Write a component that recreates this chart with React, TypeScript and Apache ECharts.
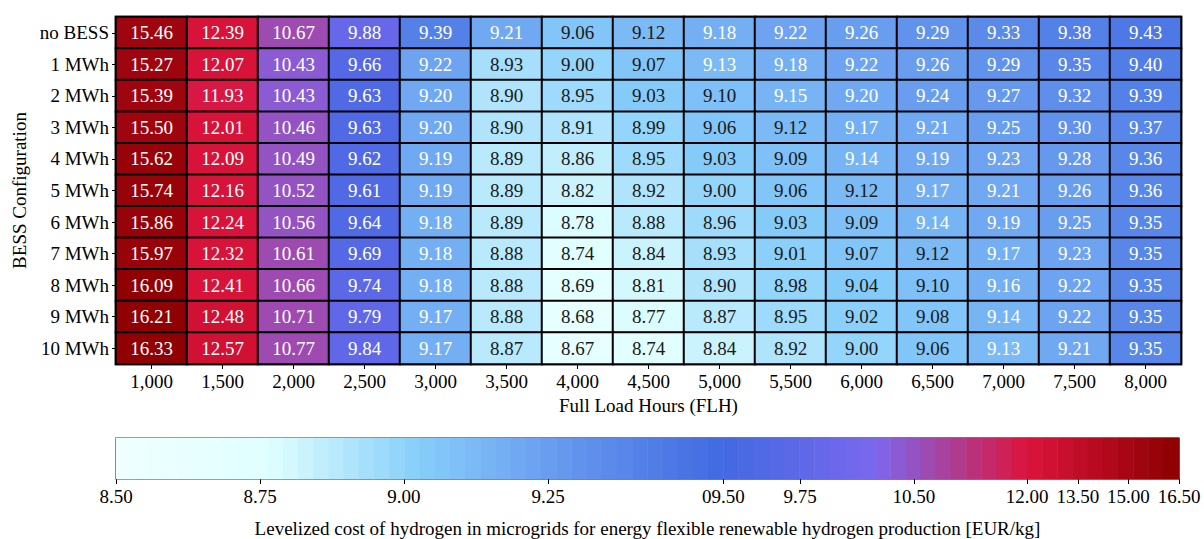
import React, { useEffect, useRef } from "react";
import * as echarts from "echarts";

const rowLabels = ["no BESS", "1 MWh", "2 MWh", "3 MWh", "4 MWh", "5 MWh", "6 MWh", "7 MWh", "8 MWh", "9 MWh", "10 MWh"];
const flhLabels = ["1,000", "1,500", "2,000", "2,500", "3,000", "3,500", "4,000", "4,500", "5,000", "5,500", "6,000", "6,500", "7,000", "7,500", "8,000"];

const rowNoBess = [15.46, 12.39, 10.67, 9.88, 9.39, 9.21, 9.06, 9.12, 9.18, 9.22, 9.26, 9.29, 9.33, 9.38, 9.43];
const row1 = [15.27, 12.07, 10.43, 9.66, 9.22, 8.93, 9.0, 9.07, 9.13, 9.18, 9.22, 9.26, 9.29, 9.35, 9.4];
const row2 = [15.39, 11.93, 10.43, 9.63, 9.2, 8.9, 8.95, 9.03, 9.1, 9.15, 9.2, 9.24, 9.27, 9.32, 9.39];
const row3 = [15.5, 12.01, 10.46, 9.63, 9.2, 8.9, 8.91, 8.99, 9.06, 9.12, 9.17, 9.21, 9.25, 9.3, 9.37];
const row4 = [15.62, 12.09, 10.49, 9.62, 9.19, 8.89, 8.86, 8.95, 9.03, 9.09, 9.14, 9.19, 9.23, 9.28, 9.36];
const row5 = [15.74, 12.16, 10.52, 9.61, 9.19, 8.89, 8.82, 8.92, 9.0, 9.06, 9.12, 9.17, 9.21, 9.26, 9.36];
const row6 = [15.86, 12.24, 10.56, 9.64, 9.18, 8.89, 8.78, 8.88, 8.96, 9.03, 9.09, 9.14, 9.19, 9.25, 9.35];
const row7 = [15.97, 12.32, 10.61, 9.69, 9.18, 8.88, 8.74, 8.84, 8.93, 9.01, 9.07, 9.12, 9.17, 9.23, 9.35];
const row8 = [16.09, 12.41, 10.66, 9.74, 9.18, 8.88, 8.69, 8.81, 8.9, 8.98, 9.04, 9.1, 9.16, 9.22, 9.35];
const row9 = [16.21, 12.48, 10.71, 9.79, 9.17, 8.88, 8.68, 8.77, 8.87, 8.95, 9.02, 9.08, 9.14, 9.22, 9.35];
const row10 = [16.33, 12.57, 10.77, 9.84, 9.17, 8.87, 8.67, 8.74, 8.84, 8.92, 9.0, 9.06, 9.13, 9.21, 9.35];
const lcohRows = [rowNoBess, row1, row2, row3, row4, row5, row6, row7, row8, row9, row10];

// colour-bar scale (norm): tick values, their labels and their fraction along the bar
const cbarTickValues = [8.5, 8.75, 9.0, 9.25, 9.5, 9.75, 10.5, 12.0, 13.5, 15.0, 16.5];
const cbarTickLabels = ["8.50", "8.75", "9.00", "9.25", "09.50", "9.75", "10.50", "12.00", "13.50", "15.00", "16.50"];
const cbarTickFractions = [0, 0.1355, 0.2709, 0.4064, 0.5714, 0.6435, 0.7507, 0.8571, 0.9048, 0.9524, 1];
const cmapColors = ["#f0ffff", "#e0ffff", "#87cefa", "#6495ed", "#4169e1", "#7b68ee", "#dc143c", "#8b0000"];
const nBands = 70;
const whiteTextThreshold = 9.125;

function norm(v: number): number {
  if (v <= cbarTickValues[0]) return 0;
  for (let i = 1; i < cbarTickValues.length; i++) {
    if (v <= cbarTickValues[i]) {
      const a = cbarTickValues[i - 1], b = cbarTickValues[i];
      const fa = cbarTickFractions[i - 1], fb = cbarTickFractions[i];
      return fa + ((v - a) / (b - a)) * (fb - fa);
    }
  }
  return 1;
}
function quant(p: number): number {
  const i = Math.min(nBands - 1, Math.max(0, Math.floor(p * nBands)));
  return (i + 0.5) / nBands;
}

const FONT = "'Liberation Serif', 'Times New Roman', Times, serif";
const FS = 19;

export default function App() {
  const ref = useRef<HTMLDivElement>(null);
  useEffect(() => {
    if (!ref.current) return;
    const chart = echarts.init(ref.current, undefined, { renderer: "svg" });

    const mainData: any[] = [];
    lcohRows.forEach((row, r) => {
      row.forEach((v, c) => {
        const p = quant(norm(v));
        mainData.push({
          value: [c, r, v, p],
          label: { color: v > whiteTextThreshold ? "#ffffff" : "#1a1a1a" },
        });
      });
    });
    const bandCats = Array.from({ length: nBands }, (_, i) => String(i));
    const bandData = bandCats.map((_, i) => {
      const p = (i + 0.5) / nBands;
      return [i, 0, p, p];
    });

    chart.setOption({
      animation: false,
      textStyle: { fontFamily: FONT },
      grid: [
        { left: 116, top: 17, width: 1065, height: 347, show: true, borderColor: "#000", borderWidth: 2.5, backgroundColor: "transparent", containLabel: false },
        { left: 116, top: 438, width: 1063, height: 53, show: true, borderColor: "#000", borderWidth: 1.2, backgroundColor: "transparent", containLabel: false },
      ],
      visualMap: {
        type: "continuous",
        show: false,
        dimension: 3,
        min: 0,
        max: 1,
        seriesIndex: [0, 1],
        inRange: { color: cmapColors },
      },
      xAxis: [
        {
          type: "category",
          gridIndex: 0,
          data: flhLabels,
          position: "bottom",
          axisLine: { show: true, lineStyle: { color: "#000", width: 2 } },
          axisTick: { show: true, alignWithLabel: true, length: 5, lineStyle: { color: "#000", width: 1 } },
          axisLabel: { color: "#000", fontSize: FS, fontFamily: FONT, margin: 8 },
          splitLine: { show: false },
          name: "Full Load Hours (FLH)",
          nameLocation: "middle",
          nameGap: 32,
          nameTextStyle: { color: "#000", fontSize: FS, fontFamily: FONT },
        },
        {
          type: "category",
          gridIndex: 1,
          data: bandCats,
          show: false,
        },
        {
          type: "value",
          gridIndex: 1,
          min: 0,
          max: 1,
          position: "bottom",
          axisLine: { show: false },
          splitLine: { show: false },
          axisTick: { show: true, length: 5, customValues: cbarTickFractions, lineStyle: { color: "#000", width: 1 } },
          axisLabel: {
            show: true,
            customValues: cbarTickFractions,
            color: "#000",
            fontSize: FS,
            fontFamily: FONT,
            margin: 8,
            formatter: (val: number) => {
              let best = 0;
              let bd = Infinity;
              cbarTickFractions.forEach((f, i) => {
                const d = Math.abs(f - val);
                if (d < bd) { bd = d; best = i; }
              });
              return cbarTickLabels[best];
            },
          },
          name: "Levelized cost of hydrogen in microgrids for energy flexible renewable hydrogen production [EUR/kg]",
          nameLocation: "middle",
          nameGap: 40,
          nameTextStyle: { color: "#000", fontSize: FS, fontFamily: FONT },
        },
      ],
      yAxis: [
        {
          type: "category",
          gridIndex: 0,
          data: rowLabels,
          inverse: true,
          axisLine: { show: true, lineStyle: { color: "#000", width: 2 } },
          axisTick: { show: true, alignWithLabel: true, length: 4, lineStyle: { color: "#000", width: 1 } },
          axisLabel: { color: "#000", fontSize: FS, fontFamily: FONT, margin: 7 },
          splitLine: { show: false },
          name: "BESS Configuration",
          nameLocation: "middle",
          nameGap: 86,
          nameTextStyle: { color: "#000", fontSize: FS, fontFamily: FONT },
        },
        {
          type: "category",
          gridIndex: 1,
          data: [""],
          show: false,
        },
      ],
      series: [
        {
          type: "heatmap",
          xAxisIndex: 0,
          yAxisIndex: 0,
          data: mainData,
          label: {
            show: true,
            fontSize: FS,
            fontFamily: FONT,
            formatter: (p: any) => Number(p.value[2]).toFixed(2),
          },
          itemStyle: { borderColor: "#000", borderWidth: 2 },
          emphasis: { disabled: true },
        },
        {
          type: "heatmap",
          xAxisIndex: 1,
          yAxisIndex: 1,
          data: bandData,
          label: { show: false },
          itemStyle: { borderWidth: 0 },
          emphasis: { disabled: true },
        },
      ],
    });
    return () => chart.dispose();
  }, []);
  return <div ref={ref} style={{ position: "absolute", left: 0, top: 0, width: 1204, height: 539 }} />;
}
